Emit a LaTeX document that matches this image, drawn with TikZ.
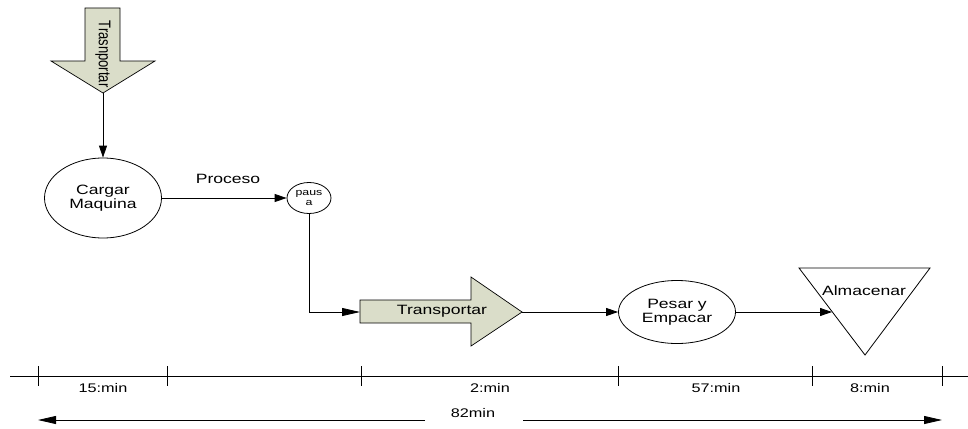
\documentclass[tikz,border=0pt]{standalone}
\usepackage{fontspec}
\setmainfont{Liberation Sans}[FakeStretch=1.3]
\newfontfamily\plainsans{Liberation Sans}
\usetikzlibrary{arrows.meta,shapes.geometric}
\definecolor{blockfill}{RGB}{218,221,201}
\tikzset{
  flow/.style={line width=0.8pt,-{Triangle[length=12pt,width=8pt]}},
  longflow/.style={line width=0.8pt,-{Triangle[length=18pt,width=8pt]}},
  blockarrow/.style={draw,line width=0.7pt,fill=blockfill},
  stage/.style={draw,line width=0.8pt,ellipse,inner sep=0pt,align=center,
    font=\fontsize{13.5}{14}\selectfont},
  lbl/.style={inner sep=0pt,font=\fontsize{13.5}{15}\selectfont},
  timelbl/.style={inner sep=0pt,font=\fontsize{12.5}{14}\selectfont},
  tick/.style={line width=0.8pt},
}
\begin{document}
\begin{tikzpicture}[x=1pt,y=-1pt]
\useasboundingbox (0,0) rectangle (968,428);

% vertical block arrow at the top
\draw[blockarrow] (85,8) -- (120,8) -- (120,61) -- (155,61) -- (103,93)
  -- (51,61) -- (85,61) -- cycle;
\coordinate (toptip) at (103,93);
\node[lbl,rotate=-90] (toplbl) at (103,54)
  {\plainsans\fontsize{13}{14}\selectfont\scalebox{1}[1.3]{Trasnportar}};

% process stages
\node[stage,minimum width=117pt,minimum height=80pt] (cargar) at (103,198)
  {Cargar\\Maquina};
\node[draw,line width=0.8pt,ellipse,inner sep=0pt,align=center,
  minimum width=44pt,minimum height=31pt,
  font=\fontsize{9.5}{10.5}\selectfont] (pausa) at (309,198) {paus\\a};
\node[lbl] (proceso) at (228,179) {Proceso};

% horizontal block arrow
\draw[blockarrow] (360,300) -- (471,300) -- (471,277) -- (522,312)
  -- (471,346) -- (471,323) -- (360,323) -- cycle;
\coordinate (trin) at (360,312);
\coordinate (trout) at (522,312);
\node[lbl] (trlbl) at (442,311) {Transportar};

\node[stage,minimum width=117pt,minimum height=63pt] (pesar) at (677,312)
  {Pesar y\\Empacar};

% storage triangle
\draw[line width=0.8pt] (799,268) -- (930,268) -- (865,355) -- cycle;
\coordinate (almin) at (832,312);
\node[lbl] (almlbl) at (864,291) {Almacenar};

% connectors
\draw[flow] (toptip) -- (cargar.north);
\draw[flow] (cargar.east) -- (pausa.west);
\draw[longflow] (pausa.south) |- (trin);
\draw[flow] (trout) -- (pesar.west);
\draw[flow] (pesar.east) -- (almin);

% time line
\draw[tick] (10,376) -- (968,376);
\foreach \x in {38,167,361,618,812,942}
  \draw[tick] (\x,366) -- (\x,386);
\node[timelbl] (t15) at (103,388) {15:min};
\node[timelbl] (t2) at (490,388) {2:min};
\node[timelbl] (t57) at (716,388) {57:min};
\node[timelbl] (t8) at (870,388) {8:min};

% total duration
\node[timelbl] (total) at (473,413) {82min};
\coordinate (totl) at (425,420);
\coordinate (totr) at (523,420);
\coordinate (endl) at (38,420);
\coordinate (endr) at (942,420);
\draw[longflow] (totl) -- (endl);
\draw[longflow] (totr) -- (endr);
\end{tikzpicture}
\end{document}
